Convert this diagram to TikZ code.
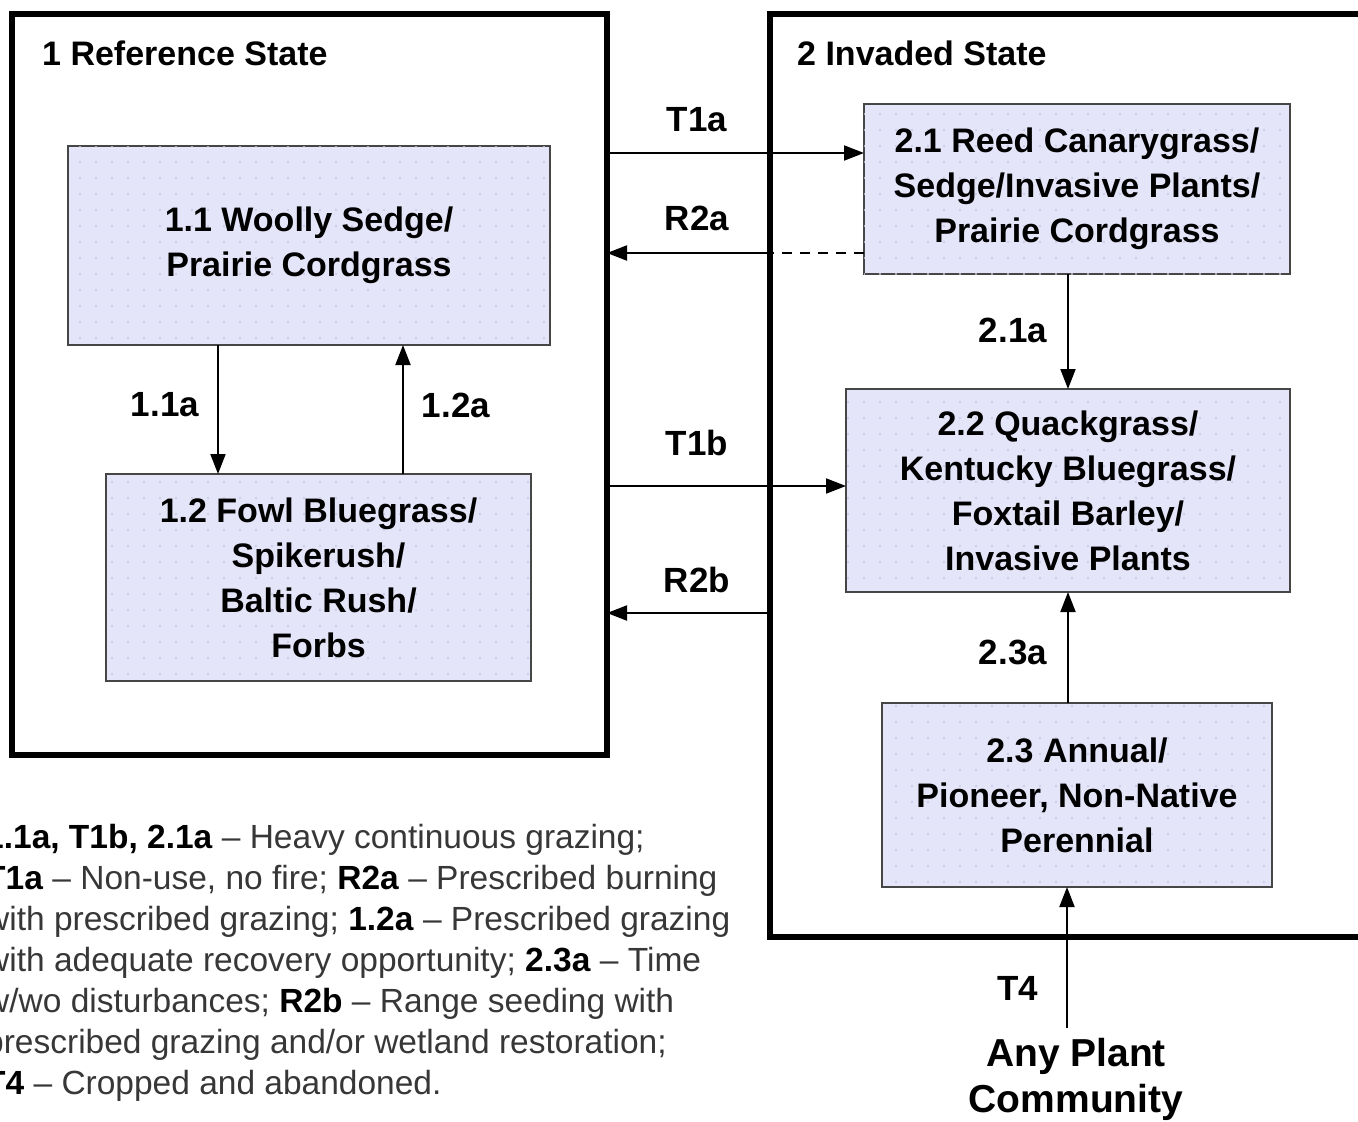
\documentclass[tikz,border=0pt]{standalone}
\usepackage{fontspec}
\setmainfont{Liberation Sans}
\usetikzlibrary{arrows.meta,patterns.meta}
\definecolor{boxfill}{RGB}{229,229,249}
\definecolor{dotcol}{RGB}{200,200,228}
\definecolor{boxline}{RGB}{70,70,70}
\definecolor{legendgray}{RGB}{55,55,55}
\tikzdeclarepattern{
  name=gdots,
  type=uncolored,
  bounding box={(-8pt,-8pt) and (8pt,8pt)},
  tile size={(16pt,16pt)},
  code={\pgfpathcircle{\pgfpointorigin}{1.1pt}\pgfusepath{fill}}
}
\tikzset{
  statebox/.style={draw=black, line width=6pt, outer sep=0pt, inner sep=0pt},
  commbox/.style={draw=boxline, line width=1.5pt, fill=boxfill,
    postaction={pattern=gdots, pattern color=dotcol},
    outer sep=0pt, inner sep=0pt, align=center,
    font=\bfseries\fontsize{34}{45}\selectfont},
  titletext/.style={anchor=west, inner sep=0pt, font=\bfseries\fontsize{34}{40}\selectfont},
  lbl/.style={inner sep=0pt, font=\bfseries\fontsize{35}{40}\selectfont},
  arr/.style={line width=2pt, -{Triangle[length=20pt,width=15pt]}},
  dashline/.style={line width=2pt, dash pattern=on 10pt off 8pt},
}
\begin{document}
\begin{tikzpicture}[x=1pt,y=-1pt]
\useasboundingbox (0,0) rectangle (1358,1122);
\fill[white] (0,0) rectangle (1358,1122);
% state boxes
\node[statebox, minimum width=595pt, minimum height=741pt] (ref) at (309.5,384.5) {};
\node[statebox, minimum width=620pt, minimum height=923pt] (inv) at (1080,475.5) {};
\node[titletext] (reftitle) at (42,53) {1 Reference State};
\node[titletext] (invtitle) at (797,53) {2 Invaded State};
% community boxes
\node[commbox, minimum width=482pt, minimum height=199pt] (b11) at (309,245.5) {1.1 Woolly Sedge/\\Prairie Cordgrass};
\node[commbox, minimum width=425pt, minimum height=207pt] (b12) at (318.5,577.5) {1.2 Fowl Bluegrass/\\Spikerush/\\Baltic Rush/\\Forbs};
\node[commbox, minimum width=426pt, minimum height=170pt] (b21) at (1077,189) {2.1 Reed Canarygrass/\\Sedge/Invasive Plants/\\Prairie Cordgrass};
\node[commbox, minimum width=444pt, minimum height=203pt] (b22) at (1068,490.5) {2.2 Quackgrass/\\Kentucky Bluegrass/\\Foxtail Barley/\\Invasive Plants};
\node[commbox, minimum width=390pt, minimum height=184pt] (b23) at (1077,795) {2.3 Annual/\\Pioneer, Non-Native\\Perennial};
% any plant community
\node[inner sep=0pt, align=center, font=\bfseries\fontsize{39}{46}\selectfont] (apc) at (1076,1079) {Any Plant\\Community};
\coordinate (t4start) at (1067,1028);
% transitions between states
\draw[arr] (ref.east |- 0,153) -- (b21.west |- 0,153);
\draw[dashline] (b21.west |- 0,253) -- (inv.west |- 0,253);
\draw[arr] (inv.west |- 0,253) -- (ref.east |- 0,253);
\draw[arr] (ref.east |- 0,486) -- (b22.west |- 0,486);
\draw[arr] (inv.west |- 0,613) -- (ref.east |- 0,613);
% within-state
\draw[arr] (b11.south -| 218,0) -- (b12.north -| 218,0);
\draw[arr] (b12.north -| 403,0) -- (b11.south -| 403,0);
\draw[arr] (b21.south -| 1068,0) -- (b22.north -| 1068,0);
\draw[arr] (b23.north -| 1068,0) -- (b22.south -| 1068,0);
\draw[arr] (t4start) -- (b23.south -| t4start);
% labels
\node[lbl] (lT1a) at (697,120) {T1a};
\node[lbl] (lR2a) at (697,218) {R2a};
\node[lbl] (lT1b) at (697,443) {T1b};
\node[lbl] (lR2b) at (697,580) {R2b};
\node[lbl] (l11a) at (165,405) {1.1a};
\node[lbl] (l12a) at (456,405) {1.2a};
\node[lbl] (l21a) at (1013,330) {2.1a};
\node[lbl] (l23a) at (1013,652) {2.3a};
\node[lbl] (lT4) at (1018,988) {T4};
% legend
\node[anchor=north west, inner sep=0pt, align=left, text=legendgray,
  font=\fontsize{33.5}{41}\selectfont] (legend) at (-15,824) {%
\textcolor{black}{\textbf{1.1a, T1b, 2.1a}} – Heavy continuous grazing;\\
\textcolor{black}{\textbf{T1a}} – Non-use, no fire; \textcolor{black}{\textbf{R2a}} – Prescribed burning\\
with prescribed grazing; \textcolor{black}{\textbf{1.2a}} – Prescribed grazing\\
with adequate recovery opportunity; \textcolor{black}{\textbf{2.3a}} – Time\\
w/wo disturbances; \textcolor{black}{\textbf{R2b}} – Range seeding with\\
prescribed grazing and/or wetland restoration;\\
\textcolor{black}{\textbf{T4}} – Cropped and abandoned.};
\end{tikzpicture}
\end{document}
